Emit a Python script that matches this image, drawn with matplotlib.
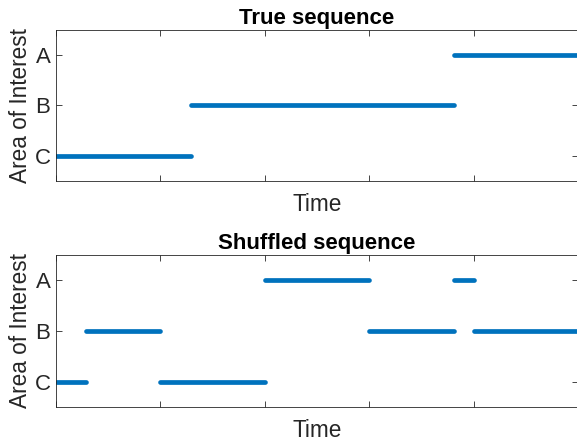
import matplotlib
matplotlib.use("Agg")
import matplotlib.pyplot as plt

plt.rcParams['font.family'] = ['Liberation Sans', 'DejaVu Sans']

aoi_labels = ['C', 'B', 'A']          # y positions 1, 2, 3
aoi_ticks = [1, 2, 3]
time_ticks = [0, 1, 2, 3, 4, 5]

# segments: (start, end, aoi level)
true_start = [0.0, 1.29, 3.81]
true_end = [1.29, 3.81, 5.0]
true_aoi = [1, 2, 3]

shuf_start = [0.0, 0.29, 1.0, 2.0, 3.0, 3.81, 4.0]
shuf_end = [0.29, 1.0, 2.0, 3.0, 3.81, 4.0, 5.0]
shuf_aoi = [1, 2, 1, 3, 2, 3, 2]

blue = '#0072BD'
axcol = '#262626'

fig = plt.figure(figsize=(5.77, 4.41), dpi=100)
ax1 = fig.add_axes([0.097, 0.5896, 0.905, 0.3424])
ax2 = fig.add_axes([0.097, 0.0771, 0.905, 0.3447])


def draw(ax, starts, ends, levels, title):
    for s, e, y in zip(starts, ends, levels):
        ax.plot([s, e], [y, y], color=blue, linewidth=3.4,
                solid_capstyle='round', clip_on=True)
    ax.set_xlim(0, 5)
    ax.set_ylim(0.5, 3.5)
    ax.set_xticks(time_ticks)
    ax.set_xticklabels([])
    ax.set_yticks(aoi_ticks)
    ax.set_yticklabels(aoi_labels)
    ax.tick_params(direction='in', length=4, width=0.6, color=axcol,
                   top=True, right=True, labelsize=16, labelcolor=axcol, pad=4)
    for sp in ax.spines.values():
        sp.set_color(axcol)
        sp.set_linewidth(0.6)
    ax.set_xlabel('Time', fontsize=16.3, color=axcol, labelpad=4.5)
    ax.set_ylabel('Area of Interest', fontsize=16.3, color=axcol, labelpad=2)
    ax.set_title(title, fontsize=16, fontweight='bold', pad=4)


draw(ax1, true_start, true_end, true_aoi, 'True sequence')
draw(ax2, shuf_start, shuf_end, shuf_aoi, 'Shuffled sequence')

fig.savefig('out.png', dpi=100)
